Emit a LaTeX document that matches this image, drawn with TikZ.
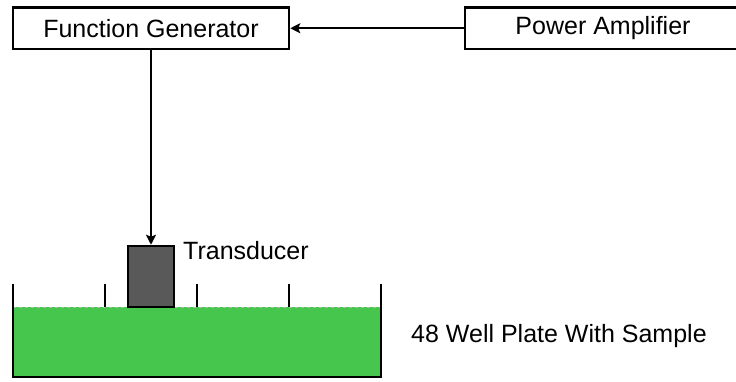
\documentclass[tikz,border=0pt]{standalone}
\usepackage{fontspec}
\setmainfont{Liberation Sans}
\usetikzlibrary{arrows.meta}
\definecolor{sample}{HTML}{46C64C}
\definecolor{transgray}{HTML}{595959}
\tikzset{
  box/.style={draw=black,line width=2.5pt,minimum width=276pt,minimum height=41.5pt,inner sep=0pt,font=\fontsize{25}{29}\selectfont},
  conn/.style={line width=2.2pt,-{Stealth[length=10pt,width=10pt,inset=2pt]}},
  wall/.style={line width=2.5pt},
  lbl/.style={inner sep=0pt,anchor=west,font=\fontsize{25}{29}\selectfont}
}
\begin{document}
\begin{tikzpicture}[x=1pt,y=-1pt]
\useasboundingbox (0,0) rectangle (736,381);
\clip (0,0) rectangle (736,381);
\node[box] (fg) at (151,28.25) {Function Generator};
\node[box] (pa) at (603,28.25) {Power Amplifier};
% plate
\fill[sample] (13,307) rectangle (381,377);
\draw[gray!60,line width=0.8pt,dashed] (13,307) -- (381,307);
\draw[wall] (13,284) -- (13,377) -- (381,377) -- (381,284);
\foreach \x in {105,197,289} \draw[wall] (\x,284) -- (\x,307);
\node[draw=black,line width=2.5pt,fill=transgray,minimum width=46pt,minimum height=61pt,inner sep=0pt] (tr) at (151,276.5) {};
\node[lbl] (trl) at (183,251) {Transducer};
\node[lbl] (pl) at (411,336.5) {48 Well Plate With Sample};
\draw[conn] (pa.west) -- (fg.east);
\draw[conn] (fg.south) -- (tr.north);
\end{tikzpicture}
\end{document}
